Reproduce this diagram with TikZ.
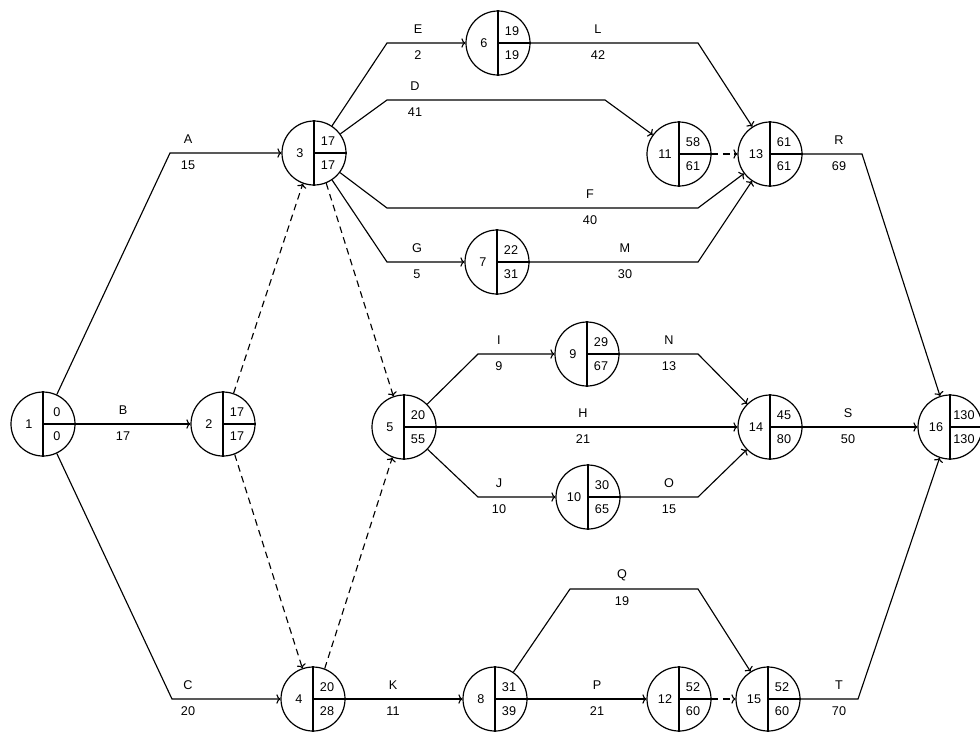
\documentclass[tikz,border=0pt]{standalone}
\usepackage{fontspec}
\setmainfont{Liberation Sans}
\usepackage{tikz}
\usetikzlibrary{arrows.meta,calc}

\newcommand{\evnode}[4]{%
\node[ev] (n#1) at (#2) {};
\draw[line width=0.9pt] (n#1.north)--(n#1.south);
\draw[line width=0.9pt] (n#1.center)--(n#1.east);
\node[lbl] (n#1no) at ($(n#1)+(-14,0)$) {#1};
\node[lbl] (n#1es) at ($(n#1)+(14,-12)$) {#3};
\node[lbl] (n#1lf) at ($(n#1)+(14,12)$) {#4};}
\newcommand{\actlbl}[4]{%
\node[lbl] (l#1) at ($(#2)+(0,-14)$) {#3};
\node[lbl] (d#1) at ($(#2)+(0,12)$) {#4};}

\begin{document}
\begin{tikzpicture}[x=0.75pt,y=-0.75pt,
  ev/.style={circle,draw,line width=0.9pt,minimum size=48pt,inner sep=0pt},
  lbl/.style={font=\fontsize{9.5}{11}\selectfont,inner sep=1pt},
  act/.style={line width=0.85pt,-{To[length=3pt,width=7pt]}},
  dum/.style={act,dash pattern=on 5pt off 3.5pt}]
\useasboundingbox (0,0) rectangle (980,733);
\evnode{1}{43,424}{0}{0}
\evnode{2}{223,424}{17}{17}
\evnode{3}{314,153}{17}{17}
\evnode{4}{313,699}{20}{28}
\evnode{5}{404,427}{20}{55}
\evnode{6}{498,43}{19}{19}
\evnode{7}{497,262}{22}{31}
\evnode{8}{495,699}{31}{39}
\evnode{9}{587,354}{29}{67}
\evnode{10}{588,497}{30}{65}
\evnode{11}{679,154}{58}{61}
\evnode{12}{679,699}{52}{60}
\evnode{13}{770,154}{61}{61}
\evnode{14}{770,427}{45}{80}
\evnode{15}{768,699}{52}{60}
\evnode{16}{950,427}{130}{130}

\draw[act] (n1)--(170,153)--(n3);
\draw[act] (n1)--(n2);
\draw[act] (n1)--(172,699)--(n4);
\draw[act] (n3)--(387,100)--(605,100)--(n11);
\draw[act] (n3)--(387,43)--(n6);
\draw[act] (n3)--(387,208)--(698,208)--(n13);
\draw[act] (n3)--(387,262)--(n7);
\draw[act] (n6)--(698,43)--(n13);
\draw[act] (n7)--(698,262)--(n13);
\draw[dum] (n11)--(n13);
\draw[act] (n13)--(862,154)--(n16);
\draw[act] (n5)--(478,354)--(n9);
\draw[act] (n9)--(698,354)--(n14);
\draw[act] (n5)--(n14);
\draw[act] (n5)--(478,497)--(n10);
\draw[act] (n10)--(698,497)--(n14);
\draw[act] (n14)--(n16);
\draw[act] (n4)--(n8);
\draw[act] (n8)--(570,589)--(698,589)--(n15);
\draw[act] (n8)--(n12);
\draw[dum] (n12)--(n15);
\draw[act] (n15)--(858,699)--(n16);
\draw[dum] (n2.71)--(n3.250);
\draw[dum] (n3.292)--(n5.109);
\draw[dum] (n2.291)--(n4.109);
\draw[dum] (n4.69)--(n5.249);

\actlbl{A}{188,153}{A}{15}
\actlbl{B}{123,424}{B}{17}
\actlbl{C}{188,699}{C}{20}
\actlbl{D}{415,100}{D}{41}
\actlbl{E}{418,43}{E}{2}
\actlbl{F}{590,208}{F}{40}
\actlbl{G}{417,262}{G}{5}
\actlbl{L}{598,43}{L}{42}
\actlbl{M}{625,262}{M}{30}
\actlbl{R}{839,154}{R}{69}
\actlbl{I}{499,354}{I}{9}
\actlbl{N}{669,354}{N}{13}
\actlbl{H}{583,427}{H}{21}
\actlbl{J}{499,497}{J}{10}
\actlbl{O}{669,497}{O}{15}
\actlbl{S}{848,427}{S}{50}
\actlbl{K}{393,699}{K}{11}
\actlbl{Q}{622,589}{Q}{19}
\actlbl{P}{597,699}{P}{21}
\actlbl{T}{839,699}{T}{70}
\end{tikzpicture}
\end{document}
